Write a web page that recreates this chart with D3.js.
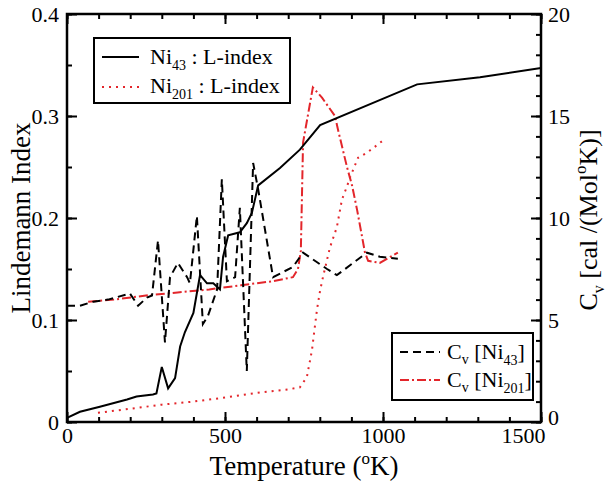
<!doctype html>
<html>
<head>
<meta charset="utf-8">
<script src="https://cdn.jsdelivr.net/npm/d3@7"></script>
<style>
  body { margin: 0; background: #fff; }
  svg text { font-family: "Liberation Serif", "Times New Roman", serif; fill: #000; }
</style>
</head>
<body>
<div id="container"></div>
<script>
// Ni43 Lindemann index (solid black)
var tNi43L = [0,41,104,190,220,272,283,300,320,342,358,373,400,421,443,463,484,494,510,547,569,585,605,674,737,801,1108,1307,1500];
var lNi43  = [0.004,0.010,0.015,0.022,0.025,0.027,0.028,0.054,0.033,0.043,0.074,0.088,0.107,0.144,0.136,0.136,0.130,0.162,0.183,0.186,0.195,0.205,0.232,0.249,0.267,0.291,0.331,0.338,0.347];

// Ni201 Lindemann index (red dotted)
var tNi201L = [98,200,300,400,500,611,700,737,759,775,791,801,810,832,854,870,886,896,921,949,975,1000];
var lNi201  = [0.009,0.013,0.017,0.020,0.024,0.029,0.032,0.034,0.044,0.070,0.110,0.129,0.142,0.171,0.191,0.218,0.231,0.240,0.259,0.264,0.270,0.276];

// Cv Ni43 (black dashed)
var tNi43C = [0,41,83,130,199,225,253,269,288,310,326,351,380,389,411,430,446,475,490,506,532,547,569,589,605,652,715,747,823,854,949,990,1047];
var cNi43  = [5.7,5.7,5.9,6.0,6.3,5.7,6.1,6.2,8.9,3.9,7.1,7.8,7.1,6.8,10.1,4.8,5.2,6.5,11.9,6.9,7.1,10.5,2.5,12.7,11.4,7.1,7.6,8.3,7.5,7.2,8.3,8.1,8.0];

// Cv Ni201 (red dash-dot)
var tNi201C = [67,150,250,350,450,550,650,715,731,740,747,778,807,848,858,886,902,918,943,953,990,1047];
var cNi201  = [5.9,6.0,6.2,6.35,6.5,6.7,6.9,7.1,7.5,8.4,13.7,16.4,15.9,15.0,14.3,12.5,11.6,10.4,8.3,7.9,7.8,8.3];

var xMajor = [0,500,1000,1500];
var yLMajor = [0,0.1,0.2,0.3,0.4];
var yRMajor = [0,5,10,15,20];

var red = "#e3262b";
var W = 609, H = 489;
var mLeft = 67, mRight = 541, mTop = 14, mBottom = 422;

var svg = d3.select("#container").append("svg")
  .attr("width", W).attr("height", H);

var x = d3.scaleLinear().domain([0,1500]).range([mLeft,mRight]);
var yL = d3.scaleLinear().domain([0,0.4]).range([mBottom,mTop]);
var yR = d3.scaleLinear().domain([0,20]).range([mBottom,mTop]);

function fmtL(d){ return d === 0 ? "0" : d3.format(".1f")(d); }

// ticks point inward, minor + major
function styleAxis(g){
  g.select(".domain").remove();
  g.selectAll(".tick line").attr("stroke","#000").attr("stroke-width",2);
  g.selectAll(".tick text").style("font-size","22px");
}
// bottom
svg.append("g").attr("transform","translate(0,"+mBottom+")")
  .call(d3.axisBottom(x).tickValues(d3.range(0,1501,100)).tickSize(-5).tickFormat(""))
  .call(styleAxis);
var xAx = svg.append("g").attr("transform","translate(0,"+mBottom+")")
  .call(d3.axisBottom(x).tickValues(xMajor).tickSize(-10).tickPadding(5).tickFormat(d3.format("d")))
  .call(styleAxis);
// last label sits left of the corner, as in the original
xAx.selectAll(".tick text").filter(function(d){ return d === 1500; }).attr("dx", -18);
// top
svg.append("g").attr("transform","translate(0,"+mTop+")")
  .call(d3.axisTop(x).tickValues(d3.range(0,1501,100)).tickSize(-5).tickFormat(""))
  .call(styleAxis);
svg.append("g").attr("transform","translate(0,"+mTop+")")
  .call(d3.axisTop(x).tickValues(xMajor).tickSize(-10).tickFormat(""))
  .call(styleAxis);
// left
svg.append("g").attr("transform","translate("+mLeft+",0)")
  .call(d3.axisLeft(yL).tickValues(d3.range(0,0.401,0.05)).tickSize(-5).tickFormat(""))
  .call(styleAxis);
svg.append("g").attr("transform","translate("+mLeft+",0)")
  .call(d3.axisLeft(yL).tickValues(yLMajor).tickSize(-10).tickPadding(8).tickFormat(fmtL))
  .call(styleAxis);
// right
svg.append("g").attr("transform","translate("+mRight+",0)")
  .call(d3.axisRight(yR).tickValues(d3.range(0,21,1)).tickSize(-5).tickFormat(""))
  .call(styleAxis);
var rAx = svg.append("g").attr("transform","translate("+mRight+",0)")
  .call(d3.axisRight(yR).tickValues(yRMajor).tickSize(-10).tickPadding(7).tickFormat(d3.format("d")))
  .call(styleAxis);
rAx.selectAll(".tick text").filter(function(d){ return d === 0; }).attr("dy", "0.1em");

// lines
function drawLine(ts, vs, ys, color, dash){
  var pts = ts.map(function(t,i){ return [t, vs[i]]; });
  var line = d3.line().x(function(d){ return x(d[0]); }).y(function(d){ return ys(d[1]); });
  svg.append("path").datum(pts)
    .attr("d", line)
    .attr("fill","none")
    .attr("stroke", color)
    .attr("stroke-width", 2)
    .attr("stroke-dasharray", dash);
}
drawLine(tNi201C, cNi201, yR, red, "9,3,2,3");
drawLine(tNi43C, cNi43, yR, "#000", "8,5");
drawLine(tNi201L, lNi201, yL, red, "2,5");
drawLine(tNi43L, lNi43, yL, "#000", null);

// frame
svg.append("rect").attr("x",mLeft).attr("y",mTop)
  .attr("width",mRight-mLeft).attr("height",mBottom-mTop)
  .attr("fill","none").attr("stroke","#000").attr("stroke-width",2.5);

// axis titles
svg.append("text").attr("x",(mLeft+mRight)/2).attr("y",475)
  .attr("text-anchor","middle").style("font-size","27px")
  .html('Temperature (<tspan dy="-11" font-size="17px">o</tspan><tspan dy="11">K)</tspan>');

svg.append("text").attr("transform","translate(30,218) rotate(-90)")
  .attr("text-anchor","middle").style("font-size","27px")
  .text("Lindemann Index");

svg.append("text").attr("transform","translate(597,220) rotate(-90)")
  .attr("text-anchor","middle").style("font-size","26px")
  .html('C<tspan dy="7" font-size="16px">v</tspan><tspan dy="-7">  [cal /(Mol</tspan><tspan dy="-11" font-size="17px">o</tspan><tspan dy="11">K)]</tspan>');

// legend 1
var lg1 = svg.append("g");
lg1.append("rect").attr("x",94).attr("y",38).attr("width",196).attr("height",65)
  .attr("fill","#fff").attr("stroke","#000").attr("stroke-width",2);
lg1.append("line").attr("x1",102).attr("x2",139).attr("y1",57).attr("y2",57)
  .attr("stroke","#000").attr("stroke-width",2);
lg1.append("line").attr("x1",102).attr("x2",139).attr("y1",87).attr("y2",87)
  .attr("stroke",red).attr("stroke-width",2).attr("stroke-dasharray","2,5");
lg1.append("text").attr("x",150).attr("y",64).style("font-size","22px")
  .html('Ni<tspan dy="6" font-size="14px">43</tspan><tspan dy="-6"> : L-index</tspan>');
lg1.append("text").attr("x",150).attr("y",93).style("font-size","22px")
  .html('Ni<tspan dy="6" font-size="14px">201</tspan><tspan dy="-6"> : L-index</tspan>');

// legend 2
var lg2 = svg.append("g");
lg2.append("rect").attr("x",392).attr("y",333).attr("width",141).attr("height",67)
  .attr("fill","#fff").attr("stroke","#000").attr("stroke-width",2);
lg2.append("line").attr("x1",400).attr("x2",440).attr("y1",352).attr("y2",352)
  .attr("stroke","#000").attr("stroke-width",2).attr("stroke-dasharray","8,5");
lg2.append("line").attr("x1",400).attr("x2",440).attr("y1",380).attr("y2",380)
  .attr("stroke",red).attr("stroke-width",2).attr("stroke-dasharray","9,3,2,3");
lg2.append("text").attr("x",447).attr("y",359).style("font-size","22px")
  .html('C<tspan dy="5" font-size="14px">v</tspan><tspan dy="-5">  [Ni</tspan><tspan dy="6" font-size="14px">43</tspan><tspan dy="-6">]</tspan>');
lg2.append("text").attr("x",447).attr("y",387).style("font-size","22px")
  .html('C<tspan dy="5" font-size="14px">v</tspan><tspan dy="-5"> [Ni</tspan><tspan dy="6" font-size="14px">201</tspan><tspan dy="-6">]</tspan>');
</script>
</body>
</html>
